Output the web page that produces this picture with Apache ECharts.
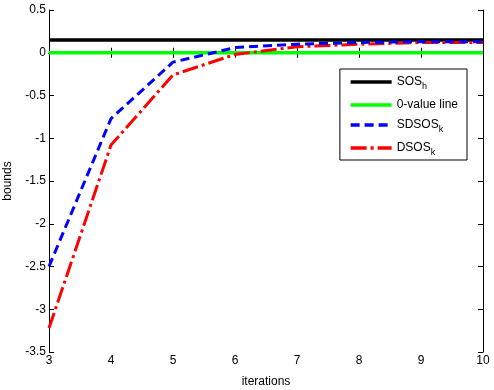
<!DOCTYPE html>
<html><head><meta charset="utf-8">
<script src="https://cdn.jsdelivr.net/npm/echarts@6/dist/echarts.min.js"></script>
<style>html,body{margin:0;padding:0;background:#fff}#c{width:494px;height:390px}</style>
</head><body><div id="c"></div>
<script>
const iterations = [3, 4, 5, 6, 7, 8, 9, 10];
const sosH = [0.15, 0.15, 0.15, 0.15, 0.15, 0.15, 0.15, 0.15];
const zeroLine = [0, 0, 0, 0, 0, 0, 0, 0];
const sdsosK = [-2.5, -0.77, -0.11, 0.06, 0.10, 0.12, 0.13, 0.13];
const dsosK = [-3.22, -1.08, -0.26, -0.02, 0.07, 0.10, 0.12, 0.12];
const yTicks = [-3.5, -3, -2.5, -2, -1.5, -1, -0.5, 0, 0.5];

const FONT = 'Liberation Sans';
const pairs = a => iterations.map((x, i) => [x, a[i]]);
const chart = echarts.init(document.getElementById('c'), null, {renderer: 'canvas'});
const axLine = {show: true, lineStyle: {color: '#000', width: 1}};
const tick = {show: true, inside: true, length: 5, lineStyle: {color: '#000'}};
chart.setOption({
  animation: false,
  backgroundColor: '#fff',
  grid: {left: 49, right: 11, top: 10, bottom: 38, containLabel: false, outerBoundsMode: 'none'},
  xAxis: [{
    type: 'value', min: 3, max: 10, interval: 1, position: 'bottom',
    name: 'iterations', nameLocation: 'middle', nameGap: 24,
    nameTextStyle: {fontFamily: FONT, fontSize: 12, color: '#000'},
    axisLine: axLine, axisTick: tick, splitLine: {show: false},
    axisLabel: {fontFamily: FONT, fontSize: 12, color: '#000', margin: 3}
  }, {
    type: 'value', min: 3, max: 10, interval: 1, position: 'top',
    axisLine: axLine, axisTick: tick, splitLine: {show: false}, axisLabel: {show: false}
  }],
  yAxis: [{
    type: 'value', min: -3.5, max: 0.5, interval: 0.5, position: 'left',
    name: 'bounds', nameLocation: 'middle', nameGap: 35, nameRotate: 90,
    nameTextStyle: {fontFamily: FONT, fontSize: 12, color: '#000'},
    axisLine: axLine, axisTick: tick, splitLine: {show: false},
    axisLabel: {fontFamily: FONT, fontSize: 12, color: '#000', margin: 3,
      formatter: v => yTicks.includes(v) ? String(v) : ''}
  }, {
    type: 'value', min: -3.5, max: 0.5, interval: 0.5, position: 'right',
    axisLine: axLine, axisTick: tick, splitLine: {show: false}, axisLabel: {show: false}
  }],
  legend: {
    right: 27, top: 69, orient: 'vertical', itemWidth: 41, itemHeight: 14, itemGap: 8,
    padding: [7, 9, 3, 9], borderColor: '#000', borderWidth: 1, backgroundColor: '#fff',
    itemStyle: {color: 'transparent', borderWidth: 0, opacity: 0},
    lineStyle: {width: 3.5},
    textStyle: {fontFamily: FONT, fontSize: 12, color: '#000',
      rich: {s: {fontFamily: FONT, fontSize: 9, color: '#000', verticalAlign: 'bottom', padding: [9,0,0,0]}}},
    formatter: n => ({'SOSh': 'SOS{s|h}', 'SDSOSk': 'SDSOS{s|k}', 'DSOSk': 'DSOS{s|k}'}[n] || n),
    data: ['SOSh', '0-value line', 'SDSOSk', 'DSOSk']
  },
  series: [
    {name: 'SOSh', type: 'line', data: pairs(sosH), symbol: 'none', lineStyle: {color: '#000', width: 3.5}, itemStyle: {color: '#000'}},
    {name: '0-value line', type: 'line', data: pairs(zeroLine), symbol: 'none', lineStyle: {color: '#00ff00', width: 3.5}, itemStyle: {color: '#00ff00'}},
    {name: 'DSOSk', type: 'line', data: pairs(dsosK), symbol: 'none', lineStyle: {color: '#ff0000', width: 3, type: [16, 4, 3, 4]}, itemStyle: {color: '#ff0000'}},
    {name: 'SDSOSk', type: 'line', data: pairs(sdsosK), symbol: 'none', lineStyle: {color: '#0000ff', width: 3, type: [9, 5]}, itemStyle: {color: '#0000ff'}}
  ]
});
</script></body></html>
